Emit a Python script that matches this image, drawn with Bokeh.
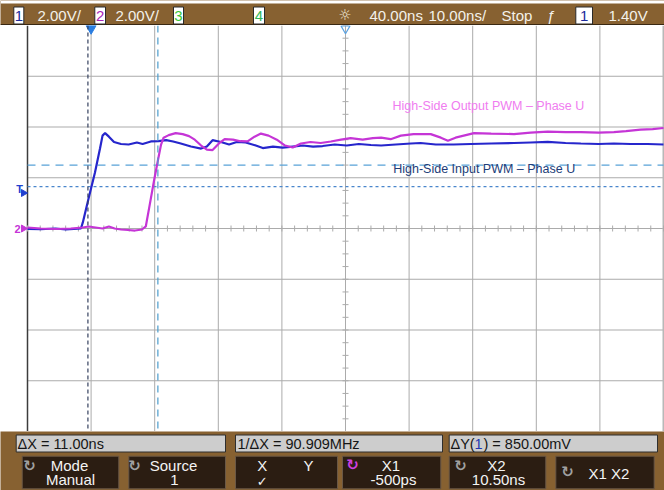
import numpy as np
from bokeh.plotting import figure
from bokeh.layouts import column
from bokeh.models import Span, Range1d
from bokeh.core.properties import value
from bokeh.embed import file_html
from bokeh.resources import INLINE

# ---- acquisition / cursor settings ----
TIME_PER_DIV = 10.0      # ns per division
DELAY = 40.0             # ns at screen centre
VOLTS_PER_DIV = 2.0      # V per division (channels 1 and 2)
TRIGGER_LEVEL = 1.40     # V
X1_CURSOR = -0.5         # ns
X2_CURSOR = 10.5         # ns
Y1_CURSOR = 2.50         # V
Y2_CURSOR = 1.65         # V

# ---- channel 1: high-side input PWM (ns, V) ----
ch1_time = [-10.0, -7.9, -5.6, -4.0, -2.7, -1.6, -1.3, -0.4, 0.6, 1.4, 1.8, 2.2, 2.8, 3.6,
            4.7, 5.9, 7.2, 8.1, 9.4, 10.6, 11.8, 12.9, 14.1, 15.7, 17.3, 18.2, 19.1, 20.4,
            21.7, 22.9, 24.3, 25.9, 27.0, 28.6, 30.1, 31.7, 33.3, 34.9, 36.4, 38.3, 40.2,
            42.1, 44.0, 45.6, 47.9, 50.3, 51.8, 54.2, 57.0, 59.7, 62.9, 66.5, 69.1, 71.8,
            74.6, 77.0, 79.8, 82.2, 84.8, 87.5, 90.0]
ch1_volts = [-0.02, -0.03, 0.0, -0.04, -0.02, 0.0, 0.24, 1.18, 2.20, 3.15, 3.66, 3.76, 3.62,
             3.41, 3.33, 3.31, 3.39, 3.33, 3.43, 3.44, 3.48, 3.43, 3.35, 3.23, 3.15, 3.23,
             3.48, 3.41, 3.31, 3.41, 3.39, 3.27, 3.17, 3.23, 3.19, 3.23, 3.27, 3.23, 3.25,
             3.31, 3.27, 3.33, 3.29, 3.27, 3.31, 3.35, 3.37, 3.31, 3.31, 3.33, 3.35, 3.37,
             3.39, 3.41, 3.37, 3.35, 3.33, 3.35, 3.33, 3.33, 3.31]

# ---- channel 2: high-side output PWM (ns, V) ----
ch2_time = [-10.0, -7.9, -5.6, -3.2, -1.3, -0.4, 0.7, 1.8, 2.8, 3.7, 4.7, 5.8, 6.9, 8.0, 8.6,
            9.2, 9.9, 10.5, 11.0, 11.4, 12.2, 13.3, 14.4, 15.4, 16.3, 17.3, 18.2, 19.1, 20.1,
            21.0, 22.3, 23.5, 24.6, 25.7, 26.7, 27.9, 29.2, 30.5, 31.7, 33.0, 34.5, 36.1,
            37.7, 39.3, 40.8, 42.7, 44.3, 45.6, 47.1, 48.7, 50.7, 53.4, 55.0, 56.1, 57.3,
            60.2, 62.9, 66.5, 69.1, 71.8, 74.6, 77.0, 79.8, 82.2, 84.1, 86.4, 88.3, 90.0]
ch2_volts = [0.04, 0.0, -0.02, 0.0, 0.04, 0.08, 0.04, 0.0, 0.08, 0.0, -0.04, -0.06, -0.08,
             -0.04, 0.08, 0.91, 1.89, 2.68, 3.31, 3.58, 3.68, 3.76, 3.72, 3.64, 3.50, 3.27,
             3.11, 3.09, 3.35, 3.52, 3.50, 3.44, 3.43, 3.62, 3.74, 3.66, 3.50, 3.27, 3.19,
             3.35, 3.41, 3.37, 3.43, 3.50, 3.56, 3.50, 3.56, 3.58, 3.52, 3.66, 3.72, 3.72,
             3.58, 3.46, 3.58, 3.76, 3.74, 3.72, 3.78, 3.82, 3.80, 3.80, 3.78, 3.80, 3.84,
             3.90, 3.92, 3.96]

trace_names = ["High-Side Input PWM \u2013 Phase U", "High-Side Output PWM \u2013 Phase U"]

# ---- screen geometry ----
W = 664
TOP_H, MAIN_H, BOT_H = 25, 406, 59
H_DIVS, V_DIVS = 10, 8
GRID_LEFT, GRID_W, GRID_RIGHT = 27, 636, 1

FONT = value("Liberation Sans")
SYM_FONT = value("DejaVu Sans")
BROWN = "#876131"
GRID = "#ababab"

t_left = DELAY - H_DIVS / 2 * TIME_PER_DIV
t_right = DELAY + H_DIVS / 2 * TIME_PER_DIV
ns_per_px = TIME_PER_DIV * H_DIVS / GRID_W
v_half = V_DIVS / 2 * VOLTS_PER_DIV
v_per_px = 2 * v_half / MAIN_H


def bare(fig):
    fig.xgrid.grid_line_color = None
    fig.ygrid.grid_line_color = None
    return fig


# ================= waveform area =================
main = bare(figure(width=W, height=MAIN_H,
                   x_range=Range1d(t_left - GRID_LEFT * ns_per_px, t_right + GRID_RIGHT * ns_per_px),
                   y_range=Range1d(-v_half, v_half),
                   output_backend="svg", toolbar_location=None,
                   x_axis_location=None, y_axis_location=None, min_border=0,
                   outline_line_color=None, background_fill_color="white",
                   border_fill_color="white"))

# graticule
vx = [t_left + k * TIME_PER_DIV for k in range(1, H_DIVS)]
main.segment(x0=vx, y0=-v_half, x1=vx, y1=v_half, line_color=GRID, line_width=1)
hy = [-v_half + k * VOLTS_PER_DIV for k in range(1, V_DIVS)]
main.segment(x0=t_left, y0=hy, x1=t_right, y1=hy, line_color=GRID, line_width=1)
main.segment(x0=[t_left], y0=-v_half, x1=[t_left], y1=v_half, line_color="#3c3c3c", line_width=1.5)
main.segment(x0=[t_right], y0=-v_half, x1=[t_right], y1=v_half, line_color="#b8b8b8", line_width=2)

# minor ticks on the centre lines
tx = np.arange(t_left, t_right + 1e-9, TIME_PER_DIV / 5)
main.segment(x0=tx, y0=-3 * v_per_px, x1=tx, y1=3 * v_per_px, line_color=GRID, line_width=1)
ty = np.arange(-v_half, v_half + 1e-9, VOLTS_PER_DIV / 4)
main.segment(x0=DELAY - 3 * ns_per_px, y0=ty, x1=DELAY + 3 * ns_per_px, y1=ty,
             line_color=GRID, line_width=1)

# cursors
main.add_layout(Span(location=X1_CURSOR, dimension="height", line_color="#34405e",
                     line_dash="4 3", line_width=1.2))
main.add_layout(Span(location=X2_CURSOR, dimension="height", line_color="#4b9ccc",
                     line_dash="7 5", line_width=1.2))
main.segment(x0=[t_left], y0=[Y1_CURSOR], x1=[t_right], y1=[Y1_CURSOR],
             line_color="#58a2d8", line_dash="8 6", line_width=1.2)
main.segment(x0=[t_left], y0=[Y2_CURSOR], x1=[t_right], y1=[Y2_CURSOR],
             line_color="#4a86cc", line_dash="3 3", line_width=1.2)

# traces
main.line(ch1_time, ch1_volts, line_color="#2626cc", line_width=2.2)
main.line(ch2_time, ch2_volts, line_color="#c535d6", line_width=2.2)

# trace names
main.text(x=[47.5], y=[2.36], text=[trace_names[0]], text_color="#223c78",
          text_font=FONT, text_font_size="12.5px", text_baseline="middle", text_align="left")
main.text(x=[47.4], y=[4.81], text=[trace_names[1]], text_color="#f07cf0",
          text_font=FONT, text_font_size="12.5px", text_baseline="middle", text_align="left")

# trigger-time and delay markers on the top edge
main.scatter(x=[0.0], y=[v_half - 3 * v_per_px], marker="inverted_triangle", size=10,
             fill_color="#2a7de0", line_color="#2a7de0")
main.scatter(x=[DELAY], y=[v_half - 3 * v_per_px], marker="inverted_triangle", size=9,
             fill_color=None, line_color="#5aa2e2", line_width=1.2)

# trigger level and channel-2 ground markers on the left edge
mark_x = t_left - 4 * ns_per_px
main.scatter(x=[mark_x, mark_x], y=[TRIGGER_LEVEL, 0.0], marker="triangle", angle=-np.pi / 2,
             size=7, fill_color=["#2040d0", "#c535d6"], line_color=["#2040d0", "#c535d6"])
main.text(x=[t_left - 8 * ns_per_px, t_left - 10 * ns_per_px], y=[TRIGGER_LEVEL + 4 * v_per_px, 0.0],
          text=["T", "2"], text_color=["#2040d0", "#c535d6"], text_font=FONT,
          text_font_size="11px", text_font_style="bold", text_baseline="middle",
          text_align="center")

# ================= top status bar =================
top = bare(figure(width=W, height=TOP_H, x_range=Range1d(0, W), y_range=Range1d(TOP_H, 0),
                  output_backend="svg", toolbar_location=None, x_axis_location=None,
                  y_axis_location=None, min_border=0, outline_line_color=None,
                  background_fill_color=BROWN, border_fill_color=BROWN))
top.quad(left=0, right=W, top=0, bottom=3, fill_color="white", line_color=None)
top.quad(left=0, right=W, top=23.5, bottom=25, fill_color="#3a2812", line_color=None)
box_l = [13.3, 94.3, 173.0, 253.0, 575.3]
box_r = [23.3, 105.0, 183.0, 264.0, 592.0]
top.quad(left=box_l, right=box_r, top=6.5, bottom=23.5, fill_color="white",
         line_color="#2a2a2a", line_width=1)
top.text(x=[(l + r) / 2 for l, r in zip(box_l, box_r)], y=15,
         text=["1", "2", "3", "4", "1"],
         text_color=["#1c2a9c", "#a824b8", "#38c838", "#34b85a", "#1c2a9c"],
         text_font=FONT, text_font_size="15px", text_baseline="middle", text_align="center")
scale_txt = f"{VOLTS_PER_DIV:.2f}V/"
status = [scale_txt, scale_txt, f"{DELAY:.2f}ns", f"{TIME_PER_DIV:.2f}ns/", "Stop",
          f"{TRIGGER_LEVEL:.2f}V"]
top.text(x=[37, 115, 369, 428, 501, 608], y=15, text=status, text_color="#f4f1ea",
         text_font=FONT, text_font_size="15px", text_baseline="middle", text_align="left")
top.text(x=[344.5], y=[14], text=["\u263c"], text_color="#f2ead8", text_font=SYM_FONT,
         text_font_size="15px", text_baseline="middle", text_align="center")
top.text(x=[551], y=[15], text=["\u0192"], text_color="#f4f1ea", text_font=FONT,
         text_font_size="15px", text_baseline="middle", text_align="center")

# ================= bottom cursor panel =================
bot = bare(figure(width=W, height=BOT_H, x_range=Range1d(0, W), y_range=Range1d(BOT_H, 0),
                  output_backend="svg", toolbar_location=None, x_axis_location=None,
                  y_axis_location=None, min_border=0, outline_line_color=None,
                  background_fill_color=BROWN, border_fill_color=BROWN))

delta_x = X2_CURSOR - X1_CURSOR
delta_y = Y1_CURSOR - Y2_CURSOR
readouts = [f"\u0394X = {delta_x:.2f}ns", f"1/\u0394X = {1e3 / delta_x:.3f}MHz"]

bot.quad(left=[15.7, 235.0, 448.7], right=[225.0, 442.0, 657.0], top=3.5, bottom=20.5,
         fill_color="#cdcdcd", line_color="#2e2e2e", line_width=1)
bot.text(x=[17, 237], y=12, text=readouts, text_color="#151515", text_font=FONT,
         text_font_size="14.5px", text_baseline="middle", text_align="left")
bot.text(x=[450, 474, 483], y=12,
         text=["\u0394Y(", "1", f") = {delta_y * 1000:.2f}mV"],
         text_color=["#151515", "#2236b0", "#151515"], text_font=FONT,
         text_font_size="14.5px", text_baseline="middle", text_align="left")

key_l = [21.7, 128.3, 235.0, 342.0, 448.7, 555.3]
key_r = [118.3, 225.0, 337.0, 440.3, 545.3, 653.7]
bot.quad(left=key_l, right=key_r, top=24.7, bottom=57.3, fill_color="#2b1d12",
         line_color="#6a5846", line_width=1)

# rotary-knob icons
bot.text(x=[29, 134, 352, 460, 567], y=[34, 34, 33, 34, 40],
         text=["\u21bb"] * 5,
         text_color=["#a0a0a0", "#a0a0a0", "#d040e0", "#a0a0a0", "#a0a0a0"],
         text_font=SYM_FONT, text_font_size="15px", text_font_style="bold",
         text_baseline="middle", text_align="center")

key_x = [69, 70, 173, 174, 390.5, 393, 496, 498, 608.5, 261.7, 308]
key_y = [33.5, 48, 33.5, 48, 33.5, 48, 33.5, 48, 42, 34, 34]
key_t = ["Mode", "Manual", "Source", "1", "X1", f"{X1_CURSOR * 1000:.0f}ps",
         "X2", f"{X2_CURSOR:.2f}ns", "X1 X2", "X", "Y"]
bot.text(x=key_x, y=key_y, text=key_t, text_color="#f4f4f4", text_font=FONT,
         text_font_size="15px", text_baseline="middle", text_align="center")
bot.text(x=[261.7], y=[50], text=["\u2713"], text_color="#f4f4f4", text_font=SYM_FONT,
         text_font_size="13px", text_baseline="middle", text_align="center")

layout = column(top, main, bot, spacing=0)
open("out.html", "w").write(file_html(layout, INLINE))
